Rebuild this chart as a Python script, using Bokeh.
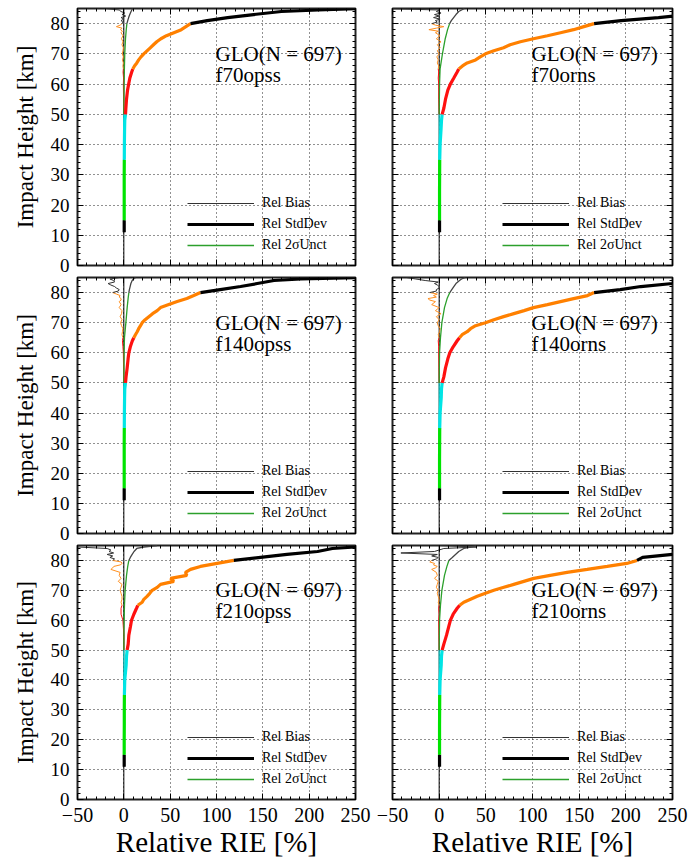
from bokeh.plotting import figure
from bokeh.layouts import column, row
from bokeh.models import (LinearAxis, Label, Span, Legend, LegendItem,
                          FixedTicker, Range1d)
from bokeh.embed import file_html
from bokeh.resources import INLINE

# ---------------- data ----------------
TITLE = "GLO(N = 697)"

X_TICKS = [-50, 0, 50, 100, 150, 200, 250]
Y_TICKS = [0, 10, 20, 30, 40, 50, 60, 70, 80]

# Relative standard deviation (%) vs impact height (km)
SD_H = [11, 15, 20, 25, 30, 35, 40, 45, 48, 50, 52, 55, 58, 60, 62, 64, 65, 66, 67, 68,
        69, 70, 71, 72, 73, 74, 75, 76, 77, 78, 79, 80, 81, 82, 83, 84, 84.5, 85]
SD_F70OPSS = [0.4, 0.4, 0.4, 0.4, 0.4, 0.5, 0.6, 0.8, 1.0, 1.8, 2.2, 2.9, 4.0, 5.2, 6.5, 8.5,
              9.7, 11.5, 14, 16, 18.5, 21.5, 25, 28.5, 32, 35.5, 40, 46, 54, 62, 67, 72,
              90, 112, 140, 170, 210, 255]
SD_F70ORNS = [0.4, 0.4, 0.4, 0.4, 0.5, 0.6, 1.0, 2.0, 2.5, 3.2, 5, 6.8, 9.3, 12, 15.7, 19.3,
              21, 25, 30, 39, 44, 49.6, 58.6, 69, 76, 87, 101, 116, 130, 144, 155, 166,
              195, 235, 270, 290, 300, 310]
SD_F140OPSS = [0.4, 0.4, 0.4, 0.4, 0.4, 0.5, 0.6, 0.8, 1.0, 1.8, 2.4, 3.6, 4.6, 5.4, 7, 9.2,
               10.8, 12.5, 14.4, 16, 18, 19.8, 23, 27, 31, 36, 39.6, 48.5, 57.6, 68, 75.5, 82.7,
               104, 126, 144, 162, 191, 260]
SD_F140ORNS = [0.4, 0.4, 0.4, 0.4, 0.5, 0.6, 1.0, 2.2, 2.5, 3.2, 5, 6.8, 9.3, 11.4, 15, 19.3,
               21.8, 24.6, 30, 33.6, 39, 49.6, 58.6, 69, 80, 91, 101, 116, 130, 144, 159, 166,
               194, 216, 250, 275, 290, 300]
SD_F210OPSS = [0.4, 0.4, 0.4, 0.5, 0.5, 0.6, 1.0, 2.5, 2.9, 3.6, 4.7, 5.4, 7.2, 8.3, 10.8, 13.7,
               15.1, 19.8, 21.6, 25, 28, 30.6, 36, 39.6, 54, 50.4, 68, 66.5, 72, 82.7, 100.7, 118.7,
               147.5, 176, 209, 225, 250, 275]
SD_F210ORNS = [0.4, 0.4, 0.4, 0.4, 0.5, 0.6, 1.0, 2.2, 2.5, 3.2, 5, 7.9, 10.4, 12.1, 15, 19.3,
               22, 26.4, 33.6, 40.8, 49.6, 58.6, 69.3, 80, 90.7, 101.4, 119, 137, 158.6, 180, 201, 212,
               218, 250, 275, 290, 300, 310]

# Relative bias (%) vs impact height (km)
BIAS_H = [11, 15, 25, 35, 45, 50, 55, 60, 62, 64, 65, 66, 67, 68, 69, 70, 71, 72, 73, 74,
          75, 76, 77, 77.5, 78, 78.5, 79, 79.5, 80, 80.5, 81, 81.5, 82, 82.5, 83, 83.5, 84, 84.5, 85]
BIAS_F70OPSS = [0.1, 0.1, 0.1, 0.1, 0.1, 0, -0.3, -0.5, -0.3, -0.8,
                -0.5, -1, -0.5, -1.5, -0.5, -1.7, -1, -0.5, -2, -1, -2.5, -1,
                -3, -1.5, -3.5, -2, -8, -4, -2, -1, -3, 0, -3, 2, -2, 1, -3, -5, -20]
BIAS_F70ORNS = [0, 0, 0, 0, 0.1, 0, -0.5, -0.5, -1, -0.5,
                -1, -0.5, -2, -1, -2.5, 0, -2, 1, -2, 2, -3, 1,
                -4, -1, -11, -3, 5, -4, -8, -2, -4, 1, -6, 0, -5, 2, -3, 0, -60]
BIAS_F140OPSS = [0.1, 0.1, 0.1, 0.1, 0.1, 0, -0.3, -0.5, -1, -1.5,
                 -1, -2, -1.5, -1, -2.5, -3.5, -2, -4, -2.5, -2, -5, -3,
                 -5, -3, -3, -5, -4, -8, -12, -6, -5, -8, -10, -14, -17, -10, -11, -15, -5]
BIAS_F140ORNS = [0, 0, 0, 0, 0.1, 0, -0.3, -0.5, -0.5, -1,
                 0, -1, 0.5, 1, -1, -2, 0, -3, 2, -4, 0, -8,
                 -4, -10, -12, -3, -6, -2, -10, -3, -3, 0, 0, -2, -5, -1, -15, -25, -35]
BIAS_F210OPSS = [0.1, 0.1, 0.1, 0.1, 0.1, 0, 0, -1, -3, -3,
                 -2, -3, -2, -2, -3, -4, -3, -2, -6, -3, -5, -4,
                 -14, -12, -10.8, -4, -1.8, -3, -12, -10, -15, -12, -18, -11, -16, -14, -18, -50, -60]
BIAS_F210ORNS = [0, 0, 0, 0, 0.1, 0, -0.3, -0.5, 0, -0.5,
                 0, -1, 0, -1, -2, -1, -3, -2, -1, -5, -2, -3,
                 -8, -4, -2, -6, -5, -10, -8, -3, -1, -8, -2, -41, -5, 0, 5, 40, 0]

# Relative 2-sigma uncertainty (%) vs impact height (km)
UNC_H = [50, 55, 60, 65, 70, 75, 78, 80, 81, 82, 83, 84, 84.5, 85]
UNC_F70OPSS = [0, 0.1, 0.3, 0.6, 1.0, 1.8, 2.6, 3.3, 4.2, 5.2, 6.4, 7.8, 8.6, 9.4]
UNC_F70ORNS = [0, 0.2, 0.4, 1.0, 3.5, 6.5, 9.0, 11.2, 13, 15.5, 18, 21, 24, 27]
UNC_F140OPSS = [0, 0.1, 0.3, 0.7, 2.2, 3.6, 4.6, 5.4, 6, 6.8, 7.6, 9, 10.5, 12.6]
UNC_F140ORNS = [0, 0.2, 0.4, 1.4, 2.9, 5.7, 8.5, 11.4, 13.5, 15.7, 18, 21.8, 24, 28]
UNC_F210OPSS = [0, 0.1, 0.3, 0.7, 1.4, 2.9, 4.2, 5.4, 7, 9, 11, 14, 21.6, 36]
UNC_F210ORNS = [0, 0.2, 0.4, 1.4, 2.9, 5.7, 8.3, 10.4, 14, 17.5, 21, 26.4, 34, 40]

PANELS = [
    ("f70opss", SD_F70OPSS, BIAS_F70OPSS, UNC_F70OPSS),
    ("f70orns", SD_F70ORNS, BIAS_F70ORNS, UNC_F70ORNS),
    ("f140opss", SD_F140OPSS, BIAS_F140OPSS, UNC_F140OPSS),
    ("f140orns", SD_F140ORNS, BIAS_F140ORNS, UNC_F140ORNS),
    ("f210opss", SD_F210OPSS, BIAS_F210OPSS, UNC_F210OPSS),
    ("f210orns", SD_F210ORNS, BIAS_F210ORNS, UNC_F210ORNS),
]

# ---------------- style ----------------
FONT = "Liberation Serif"
SD_BANDS = [(11, 15, "#000000"), (15, 35, "#00e400"), (35, 50, "#00e5e5"),
            (50, 65, "#ff1010"), (65, 80, "#ff8000"), (80, 86, "#000000")]
BIAS_BANDS = [(11, 15, "#000000"), (15, 35, "#00e400"), (35, 50, "#00e5e5"),
              (50, 65, "#ff1010"), (65, 80, "#ff9020"), (80, 86, "#333333")]
UNC_BANDS = [(0, 80, "#2ca02c"), (80, 86, "#444444")]


def segments(h, x, bands):
    out = []
    for lo, hi, col in bands:
        idx = [i for i, v in enumerate(h) if lo <= v <= hi]
        if len(idx) >= 2:
            out.append(([x[i] for i in idx], [h[i] for i in idx], col))
        else:
            out.append(None)
    return out


def style_axis(ax, ticker, labels, size="19px"):
    ax.ticker = ticker
    ax.axis_line_color = None
    ax.major_tick_in = 6
    ax.major_tick_out = 0
    ax.minor_tick_in = 3
    ax.minor_tick_out = 0
    ax.major_tick_line_color = "black"
    ax.minor_tick_line_color = "black"
    ax.major_label_text_font = FONT
    if labels:
        ax.major_label_text_color = "black"
        ax.major_label_text_font_size = size
        ax.major_label_standoff = 8
    else:
        ax.major_label_text_color = None
        ax.major_label_text_font_size = "0px"
        ax.major_label_standoff = 0


def make_panel(name, sd, bias, unc, w, h, bl, br, bt, bb, show_y, show_x):
    p = figure(width=w, height=h, x_range=Range1d(-50, 250), y_range=Range1d(0, 85),
               output_backend="svg", toolbar_location=None,
               min_border_left=bl, min_border_right=br,
               min_border_top=bt, min_border_bottom=bb)
    p.background_fill_color = "white"
    p.border_fill_color = "white"
    p.outline_line_color = "#222222"
    p.outline_line_width = 2

    xt = FixedTicker(ticks=X_TICKS, minor_ticks=list(range(-50, 251, 10)))
    yt = FixedTicker(ticks=Y_TICKS, minor_ticks=list(range(0, 86, 2)))

    for ax in p.xaxis:
        style_axis(ax, xt, show_x, "20px")
    for ax in p.yaxis:
        style_axis(ax, yt, show_y, "19px")
    if show_y:
        p.yaxis.axis_label = "Impact Height [km]"
        p.yaxis.axis_label_text_font = FONT
        p.yaxis.axis_label_text_font_size = "23px"
        p.yaxis.axis_label_text_font_style = "normal"
        p.yaxis.axis_label_text_color = "black"
        p.yaxis.axis_label_standoff = 10
    if show_x:
        p.xaxis.axis_label = "Relative RIE [%]"
        p.xaxis.axis_label_text_font = FONT
        p.xaxis.axis_label_text_font_size = "29px"
        p.xaxis.axis_label_text_font_style = "normal"
        p.xaxis.axis_label_text_color = "black"
        p.xaxis.axis_label_standoff = 1

    ra = LinearAxis()
    style_axis(ra, yt, False)
    p.add_layout(ra, "right")
    ta = LinearAxis()
    style_axis(ta, xt, False)
    p.add_layout(ta, "above")

    p.xgrid.ticker = FixedTicker(ticks=X_TICKS)
    p.ygrid.ticker = FixedTicker(ticks=Y_TICKS)
    for g in (p.xgrid, p.ygrid):
        g.grid_line_color = "#222222"
        g.grid_line_dash = "1 3"
        g.grid_line_width = 1

    p.add_layout(Span(location=0, dimension="height", line_color="black",
                      line_width=1, level="underlay"))

    # bias (thin, colored by height band)
    bias_r = []
    for seg in segments(BIAS_H, bias, BIAS_BANDS):
        if seg:
            xs, ys, col = seg
            bias_r.append(p.line(xs, ys, line_color=col, line_width=1))
    # 2 sigma uncertainty
    unc_r = []
    for seg in segments(UNC_H, unc, UNC_BANDS):
        if seg:
            xs, ys, col = seg
            unc_r.append(p.line(xs, ys, line_color=col, line_width=1.3))
    # std dev (thick, colored by height band)
    sd_r = []
    for seg in segments(SD_H, sd, SD_BANDS):
        if seg:
            xs, ys, col = seg
            sd_r.append(p.line(xs, ys, line_color=col, line_width=3.2))

    lg = Legend(items=[LegendItem(label="Rel Bias", renderers=[bias_r[-1]]),
                       LegendItem(label="Rel StdDev", renderers=[sd_r[-1]]),
                       LegendItem(label="Rel 2σUnct", renderers=[unc_r[0]])],
                location=(110, 10), orientation="vertical",
                background_fill_alpha=0, border_line_alpha=0,
                padding=0, margin=0, spacing=1,
                glyph_width=67, glyph_height=20, label_height=20,
                label_standoff=8, label_text_font=FONT,
                label_text_color="black", label_text_font_size="14px")
    p.add_layout(lg, "center")

    p.add_layout(Label(x=99, y=70, text=TITLE, text_font=FONT, text_font_size="21px",
                       text_baseline="middle", text_align="left", text_color="black"))
    p.add_layout(Label(x=99, y=63, text=name, text_font=FONT, text_font_size="21px",
                       text_baseline="middle", text_align="left", text_color="black"))
    return p


# (height, border_top, border_bottom) per row; (width, border_left, border_right) per column
ROW_SPECS = [(276, 8, 11), (268, 1, 11), (317, 1, 62)]
COL_SPECS = [(373, 77, 18), (316, 19, 17)]

rows = []
k = 0
for r, (h, bt, bb) in enumerate(ROW_SPECS):
    figs = []
    for c, (w, bl, br) in enumerate(COL_SPECS):
        name, sd, bias, unc = PANELS[k]
        figs.append(make_panel(name, sd, bias, unc, w, h, bl, br, bt, bb,
                               show_y=(c == 0), show_x=(r == 2)))
        k += 1
    rows.append(row(*figs, spacing=0))
layout = column(*rows, spacing=0)

open("out.html", "w").write(file_html(layout, INLINE))
